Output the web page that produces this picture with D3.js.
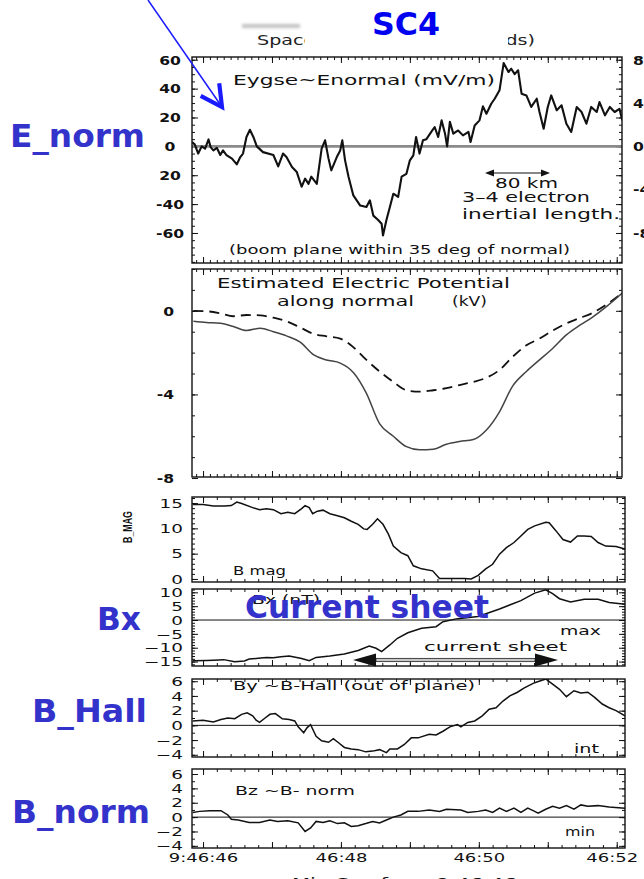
<!DOCTYPE html>
<html>
<head>
<meta charset="utf-8">
<script src="https://cdn.jsdelivr.net/npm/d3@7"></script>
<style>
  html, body { margin: 0; padding: 0; background: #fff; }
  svg { display: block; }
</style>
</head>
<body>
<svg id="fig" width="644" height="879"></svg>
<script>
// ---------------- data ----------------
// time axis: seconds after 9:46:46
const timeMajor = [0, 1, 2, 3, 4, 5, 6];
const timeLabelAt = [0, 2, 4, 6];
const timeLabels = ["9:46:46", "46:48", "46:50", "46:52"];

// tick values / labels per panel
const eTicks = [60, 40, 20, 0, -20, -40, -60];
const eTickLabels = ["60", "40", "20", "0", "20", "-40", "-60"];
const eRightTicks = [80, 40, 0, -40, -80];
const phiTicks = [0, -4, -8];
const bmagTicks = [15, 10, 5, 0];
const bxTicks = [10, 5, 0, -5, -10, -15];
const byTicks = [6, 4, 2, 0, -2, -4];
const bzTicks = [6, 4, 2, 0, -2, -4];

// E normal (mV/m): [t, value]
const eNormal = [
  [-0.16, 3], [-0.12, 1.4], [-0.07, -5], [-0.02, 0], [0.03, -1.6], [0.08, 4.8], [0.11, -0.5],
  [0.15, -2.8], [0.20, -1], [0.25, -6], [0.29, -2.8], [0.34, -6], [0.42, -8.5], [0.49, -12.5],
  [0.54, -7.4], [0.58, -5], [0.63, 6.5], [0.68, 11.5], [0.73, 6.5], [0.78, 0], [0.87, -4],
  [1.02, -6], [1.09, -13.9], [1.16, -5], [1.21, -7.4], [1.29, -14.3], [1.36, -17.8], [1.43, -28],
  [1.48, -22.4], [1.53, -26], [1.57, -21], [1.65, -26], [1.72, -1.6], [1.77, 4.2], [1.82, -8.5],
  [1.86, -16.6], [1.94, -7.4], [1.99, -2.8], [2.02, 4.2], [2.06, -9.7], [2.11, -21], [2.18, -34],
  [2.28, -41], [2.37, -42], [2.42, -37.4], [2.47, -48], [2.54, -51], [2.59, -53.6], [2.61, -61.7],
  [2.66, -51], [2.71, -42], [2.76, -32.8], [2.83, -35], [2.88, -21], [2.95, -19], [3.00, -9.7],
  [3.05, -6.2], [3.09, 6.5], [3.14, -5], [3.19, 4.2], [3.24, 5], [3.31, 10], [3.36, 13.4],
  [3.41, 6.5], [3.46, 18], [3.51, 8.8], [3.54, 0], [3.58, 17], [3.63, 8.8], [3.70, 11],
  [3.77, 7.6], [3.85, 10], [3.88, 3], [3.94, 14.5], [4.01, 18], [4.06, 27.7], [4.11, 22.6],
  [4.18, 29.5], [4.23, 33], [4.30, 38.8], [4.36, 57.7], [4.43, 51.5], [4.47, 53.8], [4.52, 50],
  [4.57, 52.7], [4.62, 36.5], [4.69, 35.3], [4.76, 27.3], [4.84, 33], [4.88, 23.8], [4.94, 12.2],
  [5.00, 27.3], [5.05, 35.3], [5.13, 25], [5.20, 28.4], [5.27, 15.7], [5.34, 10], [5.42, 27.3],
  [5.49, 23.8], [5.56, 15.7], [5.63, 27.3], [5.71, 23.8], [5.75, 30.7], [5.83, 21.5], [5.90, 27.3],
  [5.97, 23.8], [6.04, 26], [6.08, 18]
];

// electric potential along normal (kV)
const phiTime = [-0.14, 0.05, 0.25, 0.44, 0.63, 0.83, 1.02, 1.21, 1.41, 1.60, 1.79, 1.99, 2.18,
  2.37, 2.56, 2.76, 2.95, 3.14, 3.34, 3.53, 3.72, 3.92, 4.11, 4.30, 4.49, 4.69, 4.88, 5.07, 5.27,
  5.46, 5.65, 5.85, 6.08];
const phiDashed = [0, -0.02, -0.12, -0.26, -0.2, -0.22, -0.33, -0.5, -0.8, -1.1, -1.22, -1.33, -1.74,
  -2.35, -2.9, -3.4, -3.8, -3.87, -3.8, -3.7, -3.55, -3.4, -3.2, -2.83, -2.2, -1.65, -1.33, -0.95,
  -0.6, -0.35, -0.1, 0.3, 0.85];
const phiSolid = [-0.5, -0.56, -0.6, -0.75, -0.94, -0.83, -1.0, -1.2, -1.5, -2.1, -2.35, -2.5, -2.95,
  -3.95, -5.4, -6.0, -6.5, -6.65, -6.62, -6.38, -6.25, -6.16, -5.7, -4.83, -3.6, -2.9, -2.35, -1.8,
  -1.15, -0.7, -0.3, 0.2, 0.85];

// |B| (nT)
const bMag = [
  [-0.15, 14.7], [0.00, 14.7], [0.15, 14.4], [0.31, 14.4], [0.41, 14.5], [0.49, 15.2], [0.56, 14.9],
  [0.72, 14.1], [0.82, 13.7], [0.92, 13.9], [1.02, 13.7], [1.13, 12.9], [1.23, 13.2], [1.33, 12.9],
  [1.43, 13.9], [1.48, 14.5], [1.54, 14.1], [1.59, 12.9], [1.66, 13.4], [1.74, 13.6], [1.84, 12.9],
  [1.95, 12.5], [2.05, 12.1], [2.15, 11.4], [2.25, 10.8], [2.33, 9.9], [2.38, 9.8], [2.46, 10.8],
  [2.53, 11.9], [2.61, 10.8], [2.69, 8.8], [2.76, 6.5], [2.87, 5.2], [2.97, 4.6], [3.05, 2.6],
  [3.17, 2.0], [3.33, 1.6], [3.43, 0.1], [3.58, 0.1], [3.79, 0.1], [3.89, 0], [3.99, 0.7],
  [4.10, 2.0], [4.20, 2.9], [4.30, 4.9], [4.40, 6.2], [4.51, 7.2], [4.61, 8.5], [4.71, 9.8],
  [4.81, 10.5], [4.97, 11.2], [5.02, 11.1], [5.12, 9.5], [5.22, 7.8], [5.33, 7.3], [5.43, 8.5],
  [5.53, 8.5], [5.63, 8.4], [5.73, 7.2], [5.84, 6.5], [5.99, 6.4], [6.12, 5.9]
];

// Bx (nT), max-variance direction
const bX = [
  [-0.15, -14.7], [0.05, -14.6], [0.15, -14.5], [0.30, -14.3], [0.46, -15.1], [0.60, -14.8],
  [0.67, -14.1], [0.80, -13.8], [0.92, -13.5], [1.02, -13.6], [1.13, -13.3], [1.25, -13.0],
  [1.43, -13.9], [1.54, -14.7], [1.64, -13.5], [1.84, -13], [2.05, -12.3], [2.25, -11],
  [2.41, -9.4], [2.51, -10.2], [2.59, -11.4], [2.71, -9], [2.82, -6.6], [2.97, -4.6], [3.17, -3],
  [3.38, -2.4], [3.48, -0.6], [3.69, 0.5], [3.99, 1.3], [4.30, 4], [4.61, 7], [4.81, 9.7],
  [4.97, 10.9], [5.07, 9.5], [5.17, 7.7], [5.33, 6.5], [5.53, 7.5], [5.73, 7.5], [5.89, 6.3],
  [6.12, 5.7]
];

// By ~ Hall field (nT)
const bY = [
  [-0.15, 0.6], [0.00, 0.7], [0.15, 0.45], [0.26, 0.8], [0.36, 1.0], [0.46, 0.9], [0.56, 1.5],
  [0.64, 1.7], [0.72, 1.3], [0.77, 0.7], [0.82, 0.4], [0.90, 1.0], [0.97, 1.5], [1.05, 1.6],
  [1.15, 0.9], [1.25, 0.8], [1.33, 0.6], [1.38, -0.2], [1.46, -1.0], [1.51, -0.3], [1.56, 0.1],
  [1.64, -1.5], [1.72, -2.1], [1.82, -2.3], [1.89, -1.8], [1.97, -2.4], [2.05, -3.0], [2.15, -3.2],
  [2.25, -3.3], [2.36, -3.6], [2.46, -3.5], [2.56, -3.3], [2.66, -3.7], [2.71, -3.2], [2.82, -3.2],
  [2.92, -2.6], [3.02, -1.7], [3.12, -1.7], [3.28, -1.2], [3.38, -1.3], [3.48, -0.8], [3.58, -0.2],
  [3.69, 0.1], [3.74, -0.2], [3.84, 0.4], [3.94, 0.6], [4.05, 1.3], [4.15, 2.2], [4.25, 2.4],
  [4.35, 3.3], [4.45, 4.0], [4.56, 4.5], [4.66, 5.1], [4.81, 5.8], [4.97, 6.3], [5.07, 5.6],
  [5.17, 4.9], [5.27, 3.9], [5.38, 4.7], [5.48, 4.4], [5.58, 4.5], [5.68, 3.8], [5.79, 2.9],
  [5.89, 2.4], [5.99, 2.0], [6.12, 1.3]
];

// Bz ~ normal field (nT)
const bZ = [
  [-0.15, 0.65], [-0.05, 0.8], [0.10, 0.9], [0.26, 0.9], [0.36, 0.3], [0.41, -0.3], [0.51, -0.4],
  [0.67, -0.75], [0.82, -0.75], [0.97, -0.4], [1.08, -0.6], [1.23, -0.5], [1.38, -0.8], [1.48, -2.0],
  [1.56, -1.5], [1.64, -0.6], [1.74, -0.75], [1.84, -0.5], [1.95, -0.9], [2.05, -0.8], [2.15, -1.3],
  [2.25, -1.2], [2.36, -0.9], [2.46, -0.6], [2.56, -0.8], [2.66, -0.4], [2.76, 0], [2.87, 0.3],
  [2.97, 0.8], [3.12, 0.8], [3.28, 1.0], [3.43, 0.8], [3.53, 1.1], [3.74, 1.0], [3.84, 0.65],
  [3.99, 0.8], [4.10, 1.0], [4.20, 0.65], [4.30, 1.25], [4.40, 0.8], [4.51, 1.25], [4.61, 0.65],
  [4.71, 1.25], [4.81, 0.8], [4.86, 0.55], [4.97, 1.1], [5.07, 1.5], [5.17, 1.25], [5.27, 1.6],
  [5.38, 1.1], [5.48, 1.7], [5.58, 1.5], [5.73, 1.6], [5.89, 1.4], [6.12, 1.25]
];

// ---------------- drawing ----------------
const svg = d3.select("#fig");
const FONT = "DejaVu Sans, Verdana, sans-serif";
const LEFT = 192;
const x = d3.scaleLinear().domain([-0.16, 6.12]).range([LEFT, 625]);

const defs = svg.append("defs");
defs.append("filter").attr("id", "smudge")
  .attr("x", "-50%").attr("y", "-200%").attr("width", "200%").attr("height", "500%")
  .append("feGaussianBlur").attr("stdDeviation", 1.8);

function txt(parent, str, x0, yb, o = {}) {
  const t = parent.append("text")
    .attr("x", x0).attr("y", yb)
    .attr("font-family", o.family || FONT)
    .attr("font-size", o.size || 13)
    .attr("font-weight", o.weight || "normal")
    .attr("fill", o.fill || "#111")
    .attr("text-anchor", o.anchor || "start")
    .text(str);
  if (o.len) t.attr("textLength", o.len).attr("lengthAdjust", "spacingAndGlyphs");
  return t;
}

function hTicks(g, yPos, top, vals, len, xr) {
  const ax = (top ? d3.axisTop(x) : d3.axisBottom(x))
    .tickValues(vals.filter(t => x(t) > LEFT + 0.5 && x(t) < xr - 0.5))
    .tickSize(-len).tickFormat("");
  const a = g.append("g").attr("transform", `translate(0,${yPos})`).call(ax);
  a.select(".domain").remove();
  a.selectAll("line").attr("stroke", "#111").attr("stroke-width", 1);
}

function vTicks(g, y, xPos, right, vals, len) {
  const ax = (right ? d3.axisRight(y) : d3.axisLeft(y)).tickValues(vals).tickSize(-len).tickFormat("");
  const a = g.append("g").attr("transform", `translate(${xPos},0)`).call(ax);
  a.select(".domain").remove();
  a.selectAll("line").attr("stroke", "#111").attr("stroke-width", 1);
}

function vLabels(g, y, xPos, right, vals, labels, o) {
  const ax = (right ? d3.axisRight(y) : d3.axisLeft(y))
    .tickValues(vals).tickSize(0).tickFormat((d, i) => labels[i]);
  const a = g.append("g").attr("transform", `translate(${xPos},0)`).call(ax);
  a.select(".domain").remove();
  a.selectAll("text")
    .attr("font-family", o.family || FONT)
    .attr("font-size", o.size)
    .attr("font-weight", o.weight || "normal")
    .attr("fill", "#111")
    .attr("text-anchor", o.anchor)
    .attr("x", o.dx / o.sx)
    .attr("dy", "0.36em")
    .attr("transform", `scale(${o.sx},1)`);
}

function panel(p) {
  const y = d3.scaleLinear().domain(p.domain).range([p.bottom, p.top]);
  const g = svg.append("g");
  const minor = d3.range(Math.round(-0.1 / p.minorT), Math.round(6.2 / p.minorT)).map(k => k * p.minorT);
  hTicks(g, p.top, true, minor, 3, p.right);
  hTicks(g, p.bottom, false, minor, 3, p.right);
  hTicks(g, p.top, true, timeMajor, 6, p.right);
  hTicks(g, p.bottom, false, timeMajor, 6, p.right);
  const yMinor = d3.range(Math.ceil(p.domain[0] / p.minorY), Math.floor(p.domain[1] / p.minorY) + 1)
    .map(k => k * p.minorY);
  vTicks(g, y, LEFT, false, yMinor, 3);
  vTicks(g, y, p.right, true, yMinor, 3);
  vTicks(g, y, LEFT, false, p.major, 6);
  vTicks(g, y, p.right, true, p.major, 6);
  const clipId = "clip-" + p.id;
  defs.append("clipPath").attr("id", clipId).append("rect")
    .attr("x", LEFT).attr("y", p.top).attr("width", p.right - LEFT).attr("height", p.bottom - p.top);
  const plot = g.append("g").attr("clip-path", `url(#${clipId})`);
  g.append("rect").attr("x", LEFT).attr("y", p.top)
    .attr("width", p.right - LEFT).attr("height", p.bottom - p.top)
    .attr("fill", "none").attr("stroke", "#111").attr("stroke-width", 1.4);
  return { g, plot, y };
}

const lineOf = (y, curve) => d3.line().x(d => x(d[0])).y(d => y(d[1])).curve(curve || d3.curveLinear);

// ----- title strip -----
txt(svg, "Spacecraft 4 (normal coords)", 257, 45, { size: 14, len: 278, fill: "#222" });
svg.append("rect").attr("x", 305).attr("y", 16).attr("width", 203).attr("height", 34).attr("fill", "#fff");
svg.append("rect").attr("x", 242).attr("y", 24).attr("width", 58).attr("height", 4)
  .attr("fill", "#b4b4b4").attr("opacity", 0.8).attr("filter", "url(#smudge)");
txt(svg, "SC4", 372, 35, { size: 32, weight: "bold", fill: "#0000f0", len: 68 });

// ----- panel 1: E normal -----
const pE = panel({ id: "e", top: 57, bottom: 263, right: 622, domain: [-80.8, 61.9],
  minorT: 0.1, minorY: 5, major: eTicks });
pE.plot.append("line").attr("x1", LEFT).attr("x2", 622)
  .attr("y1", pE.y(0)).attr("y2", pE.y(0)).attr("stroke", "#8a8a8a").attr("stroke-width", 2.6);
pE.plot.append("path").datum(eNormal).attr("d", lineOf(pE.y))
  .attr("fill", "none").attr("stroke", "#111").attr("stroke-width", 2.1).attr("stroke-linejoin", "round");
vLabels(pE.g, pE.y, LEFT, false, eTicks, eTickLabels, { size: 12, weight: "bold", sx: 1.3, dx: -22, anchor: "middle" });
const yRight = d3.scaleLinear().domain(pE.y.domain().map(v => v * 4 / 3)).range(pE.y.range());
vLabels(pE.g, yRight, 622, true, eRightTicks, eRightTicks.map(String), { size: 12, weight: "bold", sx: 1.3, dx: 11, anchor: "start" });

txt(pE.g, "Eygse~Enormal (mV/m)", 233, 85, { size: 14.5, len: 262 });
txt(pE.g, "80 km", 495, 188, { size: 14.5, len: 63 });
txt(pE.g, "3\u20134 electron", 462, 202, { size: 14.5, len: 128 });
txt(pE.g, "inertial length.", 462, 219, { size: 14.5, len: 158 });
txt(pE.g, "(boom plane within 35 deg of normal)", 229, 254, { size: 12, len: 341 });
// 80 km scale arrow
{
  const ya = 173, xa = 485, xb = 550, h = 9, w = 3.5;
  pE.g.append("line").attr("x1", xa + h).attr("x2", xb - h).attr("y1", ya).attr("y2", ya)
    .attr("stroke", "#111").attr("stroke-width", 1.2);
  pE.g.append("path").attr("d", `M${xa},${ya}L${xa + h},${ya - w}L${xa + h},${ya + w}Z`).attr("fill", "#111");
  pE.g.append("path").attr("d", `M${xb},${ya}L${xb - h},${ya - w}L${xb - h},${ya + w}Z`).attr("fill", "#111");
}

// ----- panel 2: potential -----
const pP = panel({ id: "phi", top: 269, bottom: 477, right: 622, domain: [-7.95, 2.0],
  minorT: 0.1, minorY: 1, major: phiTicks });
const phiDashedPts = phiTime.map((t, i) => [t, phiDashed[i]]);
const phiSolidPts = phiTime.map((t, i) => [t, phiSolid[i]]);
pP.plot.append("path").datum(phiDashedPts).attr("d", lineOf(pP.y, d3.curveMonotoneX))
  .attr("fill", "none").attr("stroke", "#111").attr("stroke-width", 1.8).attr("stroke-dasharray", "10,6");
pP.plot.append("path").datum(phiSolidPts).attr("d", lineOf(pP.y, d3.curveMonotoneX))
  .attr("fill", "none").attr("stroke", "#444").attr("stroke-width", 1.5);
vLabels(pP.g, pP.y, LEFT, false, phiTicks, phiTicks.map(String), { size: 12, weight: "bold", sx: 1.3, dx: -18, anchor: "end" });
txt(pP.g, "Estimated Electric Potential", 217, 288, { size: 14.5, len: 293 });
txt(pP.g, "along normal", 277, 306, { size: 14.5, len: 137 });
txt(pP.g, "(kV)", 452, 306, { size: 14.5, len: 35 });

// ----- lower panels: magnetic field -----
const lowerLabelOpts = { size: 11.5, sx: 1.6, dx: -9, anchor: "end" };
const minusify = v => String(v).replace("-", "\u2212");

const pM = panel({ id: "bmag", top: 497, bottom: 582, right: 625, domain: [-0.6, 16.2],
  minorT: 0.2, minorY: 1, major: bmagTicks });
pM.plot.append("path").datum(bMag).attr("d", lineOf(pM.y))
  .attr("fill", "none").attr("stroke", "#111").attr("stroke-width", 1.5);
vLabels(pM.g, pM.y, LEFT, false, bmagTicks, bmagTicks.map(String), lowerLabelOpts);
txt(pM.g, "B mag", 233, 575, { size: 12.5, len: 53 });
txt(pM.g, "B_MAG", 0, 0, { size: 12.5, weight: "bold", family: "Liberation Sans Narrow, Liberation Sans, sans-serif",
  len: 32, anchor: "middle" }).attr("transform", "translate(132,527) rotate(-90)");

const pX = panel({ id: "bx", top: 589, bottom: 666, right: 625, domain: [-16.6, 11.2],
  minorT: 0.2, minorY: 1, major: bxTicks });
pX.plot.append("line").attr("x1", LEFT).attr("x2", 625).attr("y1", pX.y(0)).attr("y2", pX.y(0))
  .attr("stroke", "#111").attr("stroke-width", 1);
pX.plot.append("path").datum(bX).attr("d", lineOf(pX.y))
  .attr("fill", "none").attr("stroke", "#111").attr("stroke-width", 1.5);
vLabels(pX.g, pX.y, LEFT, false, bxTicks, bxTicks.map(minusify), lowerLabelOpts);
txt(pX.g, "Bx (nT)", 252, 604, { size: 12, len: 68 });
txt(pX.g, "max", 560, 635, { size: 13, len: 41 });
txt(pX.g, "current sheet", 424, 651, { size: 13, len: 143 });
// current-sheet span arrow
{
  const ya = 660, x1 = 353, x2 = 558, h = 23, w = 6.5;
  pX.g.append("rect").attr("x", x1 + h).attr("y", ya - 1.6).attr("width", x2 - x1 - 2 * h).attr("height", 3.2)
    .attr("fill", "#c8c8c8").attr("stroke", "#333").attr("stroke-width", 0.9);
  pX.g.append("path").attr("d", `M${x1},${ya}L${x1 + h},${ya - w}L${x1 + h},${ya + w}Z`).attr("fill", "#111");
  pX.g.append("path").attr("d", `M${x2},${ya}L${x2 - h},${ya - w}L${x2 - h},${ya + w}Z`).attr("fill", "#111");
}

const pY = panel({ id: "by", top: 679, bottom: 757, right: 625, domain: [-4.3, 6.3],
  minorT: 0.2, minorY: 1, major: byTicks });
pY.plot.append("line").attr("x1", LEFT).attr("x2", 625).attr("y1", pY.y(0)).attr("y2", pY.y(0))
  .attr("stroke", "#111").attr("stroke-width", 1);
pY.plot.append("path").datum(bY).attr("d", lineOf(pY.y))
  .attr("fill", "none").attr("stroke", "#111").attr("stroke-width", 1.5);
vLabels(pY.g, pY.y, LEFT, false, byTicks, byTicks.map(minusify), lowerLabelOpts);
txt(pY.g, "By ~B-Hall (out of plane)", 233, 690, { size: 12.5, len: 242 });
txt(pY.g, "int", 574, 753, { size: 12.5, len: 25 });

const pZ = panel({ id: "bz", top: 769, bottom: 848, right: 625, domain: [-4.3, 6.7],
  minorT: 0.2, minorY: 1, major: bzTicks });
pZ.plot.append("line").attr("x1", LEFT).attr("x2", 625).attr("y1", pZ.y(0)).attr("y2", pZ.y(0))
  .attr("stroke", "#111").attr("stroke-width", 1);
pZ.plot.append("path").datum(bZ).attr("d", lineOf(pZ.y))
  .attr("fill", "none").attr("stroke", "#111").attr("stroke-width", 1.5);
vLabels(pZ.g, pZ.y, LEFT, false, bzTicks, bzTicks.map(minusify), lowerLabelOpts);
txt(pZ.g, "Bz ~B- norm", 235, 795, { size: 12.5, len: 120 });
txt(pZ.g, "min", 565, 836, { size: 12.5, len: 30 });

// time axis labels
{
  const ax = d3.axisBottom(x).tickValues(timeLabelAt).tickSize(0).tickPadding(0)
    .tickFormat((d, i) => timeLabels[i]);
  const a = svg.append("g").attr("transform", "translate(0,848)").call(ax);
  a.select(".domain").remove();
  a.selectAll("text")
    .attr("font-family", FONT).attr("font-size", 12).attr("fill", "#111")
    .attr("y", 14).attr("dy", 0)
    .attr("transform", "scale(1.5,1)")
    .attr("x", (d, i) => (i === timeLabels.length - 1 ? -5 : 0) / 1.5);
  txt(svg, "Min Sec from 9:46:46", 292, 888, { size: 14, len: 225 });
}

// ----- panel name tags -----
const TAG = { size: 32, weight: "bold", fill: "#3333cc" };
txt(svg, "E_norm", 10, 147, { ...TAG, len: 135 });
txt(svg, "Bx", 97, 630, { ...TAG, len: 44 });
txt(svg, "B_Hall", 32, 722, { ...TAG, len: 115 });
txt(svg, "B_norm", 12, 823, { ...TAG, len: 138 });
txt(svg, "Current sheet", 245, 618, { ...TAG, len: 244 });

// pointer arrow towards the E panel
{
  const s = [148, 0], tip = [222, 107];
  svg.append("line").attr("x1", s[0]).attr("y1", s[1]).attr("x2", tip[0]).attr("y2", tip[1])
    .attr("stroke", "#1a1aff").attr("stroke-width", 1.5);
  const ang = Math.atan2(s[1] - tip[1], s[0] - tip[0]);
  const L = 24, spread = 28 * Math.PI / 180;
  const a1 = [tip[0] + L * Math.cos(ang - spread), tip[1] + L * Math.sin(ang - spread)];
  const a2 = [tip[0] + L * Math.cos(ang + spread), tip[1] + L * Math.sin(ang + spread)];
  svg.append("path").attr("d", `M${a1[0]},${a1[1]}L${tip[0]},${tip[1]}L${a2[0]},${a2[1]}`)
    .attr("fill", "none").attr("stroke", "#1a1aff").attr("stroke-width", 4.2)
    .attr("stroke-linejoin", "miter").attr("stroke-linecap", "butt");
}
</script>
</body>
</html>
